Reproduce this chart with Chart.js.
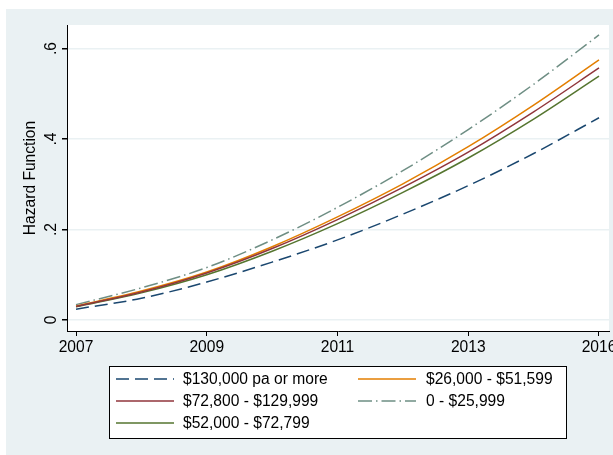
<!DOCTYPE html>
<html>
<head>
<meta charset="utf-8">
<script src="https://cdn.jsdelivr.net/npm/chart.js@4/dist/chart.umd.min.js"></script>
<style>
  html, body { margin: 0; padding: 0; background: #ffffff; }
  #wrap { width: 613px; height: 455px; }
</style>
</head>
<body>
<div id="wrap"><canvas id="hazard" width="613" height="455"></canvas></div>
<script>
// Time axis: years since 2007 and the labels printed under the ticks
const timePoints = [0, 1, 2, 3, 4, 5, 6, 7, 8];
const yearTicks = [0, 2, 4, 6, 8];
const yearLabels = ['2007', '2009', '2011', '2013', '2016'];

// Hazard axis ticks
const hazardTicks = [0, 0.2, 0.4, 0.6];
const hazardTickLabels = ['0', '.2', '.4', '.6'];

// Estimated hazard by household income band
const income130kPlus   = [0.024, 0.048, 0.084, 0.128, 0.177, 0.234, 0.297, 0.368, 0.447];
const income72kTo130k  = [0.030, 0.062, 0.104, 0.158, 0.222, 0.293, 0.371, 0.460, 0.557];
const income52kTo73k   = [0.029, 0.060, 0.100, 0.152, 0.213, 0.282, 0.358, 0.444, 0.539];
const income26kTo52k   = [0.031, 0.064, 0.106, 0.162, 0.228, 0.301, 0.383, 0.475, 0.575];
const incomeUnder26k   = [0.034, 0.071, 0.116, 0.177, 0.249, 0.330, 0.421, 0.521, 0.630];

const seriesLabels = [
  '$130,000 pa or more',
  '$72,800 - $129,999',
  '$52,000 - $72,799',
  '$26,000 - $51,599',
  '0 - $25,999'
];

const FONT = "'Liberation Sans', Arial, Helvetica, sans-serif";
const FONT_SIZE = 15.6;
const OUTER_BG = '#eaf1f3';

function toXY(values) {
  return values.map((v, i) => ({ x: timePoints[i], y: v }));
}

const datasets = [
  { label: seriesLabels[0], data: toXY(income130kPlus),  borderColor: '#1a476f', borderDash: [13, 6] },
  { label: seriesLabels[1], data: toXY(income72kTo130k), borderColor: '#90353b', borderDash: [] },
  { label: seriesLabels[2], data: toXY(income52kTo73k),  borderColor: '#55752f', borderDash: [] },
  { label: seriesLabels[3], data: toXY(income26kTo52k),  borderColor: '#e37e00', borderDash: [] },
  { label: seriesLabels[4], data: toXY(incomeUnder26k),  borderColor: '#6e8e84', borderDash: [14, 4, 1.5, 4] }
];

// Graph region background and white plot region
const backdrop = {
  id: 'backdrop',
  beforeDraw(chart) {
    const { ctx, chartArea: a, width, height } = chart;
    ctx.save();
    ctx.fillStyle = '#ffffff';
    ctx.fillRect(0, 0, width, height);
    ctx.fillStyle = OUTER_BG;
    ctx.fillRect(6, 9, width - 6, height - 9);
    ctx.fillStyle = '#ffffff';
    ctx.fillRect(a.left, a.top, a.right - a.left, a.bottom - a.top);
    ctx.restore();
  }
};

// Boxed two-column key, filled column by column
const boxedKey = {
  id: 'boxedKey',
  afterDraw(chart) {
    const { ctx } = chart;
    const box = { x: 109.5, y: 366.5, w: 457, h: 72 };
    const rows = 3;
    const rowY = [379, 401, 423];
    const colSample = [[116, 174], [358, 416]];
    const colText = [183, 426];
    ctx.save();
    ctx.fillStyle = '#ffffff';
    ctx.fillRect(box.x, box.y, box.w, box.h);
    ctx.strokeStyle = '#000000';
    ctx.lineWidth = 1;
    ctx.strokeRect(box.x, box.y, box.w, box.h);
    chart.data.datasets.forEach((ds, i) => {
      const col = Math.floor(i / rows);
      const row = i % rows;
      const y = rowY[row];
      ctx.beginPath();
      ctx.setLineDash(ds.borderDash || []);
      ctx.strokeStyle = ds.borderColor;
      ctx.lineWidth = 1.5;
      ctx.moveTo(colSample[col][0], y);
      ctx.lineTo(colSample[col][1], y);
      ctx.stroke();
      ctx.setLineDash([]);
      ctx.fillStyle = '#000000';
      ctx.font = FONT_SIZE + 'px ' + FONT;
      ctx.textBaseline = 'middle';
      ctx.textAlign = 'left';
      ctx.fillText(ds.label, colText[col], y + 0.5);
    });
    ctx.restore();
  }
};

new Chart(document.getElementById('hazard'), {
  type: 'line',
  data: { datasets },
  plugins: [backdrop, boxedKey],
  options: {
    responsive: false,
    animation: false,
    devicePixelRatio: 1,
    layout: { padding: { top: 25, right: 4, left: 0, bottom: 0 } },
    plugins: {
      legend: { display: false },
      tooltip: { enabled: false }
    },
    elements: {
      point: { radius: 0 },
      line: { borderWidth: 1.5, cubicInterpolationMode: 'monotone', fill: false }
    },
    scales: {
      x: {
        type: 'linear',
        min: -0.138,
        max: 8.153,
        afterBuildTicks: (s) => { s.ticks = yearTicks.map(v => ({ value: v })); },
        afterFit: (s) => { s.paddingLeft = 0; s.paddingRight = 0; s.height = 124; },
        grid: { drawOnChartArea: false, drawTicks: true, tickLength: 5, tickColor: '#000000' },
        border: { display: true, color: '#000000', width: 1 },
        ticks: {
          color: '#000000',
          font: { family: FONT, size: FONT_SIZE },
          padding: 2,
          maxRotation: 0,
          autoSkip: false,
          callback: (v, i) => yearLabels[i]
        }
      },
      y: {
        type: 'linear',
        min: -0.0243,
        max: 0.652,
        afterBuildTicks: (s) => { s.ticks = hazardTicks.map(v => ({ value: v })); },
        afterFit: (s) => { s.width = 67; s.paddingTop = 0; s.paddingBottom = 0; },
        grid: { color: OUTER_BG, lineWidth: 1.5, drawTicks: true, tickLength: 5, tickColor: '#000000' },
        border: { display: true, color: '#000000', width: 1 },
        ticks: {
          color: '#000000',
          font: { family: FONT, size: FONT_SIZE },
          minRotation: 90,
          maxRotation: 90,
          crossAlign: 'center',
          padding: 4,
          autoSkip: false,
          callback: (v, i) => hazardTickLabels[i]
        },
        title: {
          display: true,
          text: 'Hazard Function',
          color: '#000000',
          font: { family: FONT, size: FONT_SIZE },
          padding: { top: 21, bottom: 0 }
        }
      }
    }
  }
});
</script>
</body>
</html>
